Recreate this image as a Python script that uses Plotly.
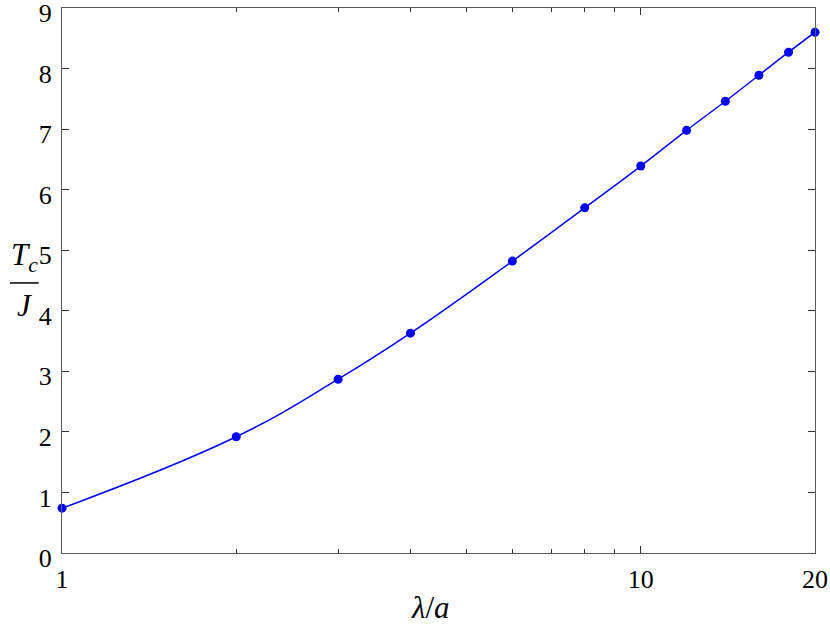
import plotly.graph_objects as go

lam = [1, 2, 3, 4, 6, 8, 10, 12, 14, 16, 18, 20]
tc = [0.74, 1.92, 2.87, 3.63, 4.82, 5.70, 6.39, 6.98, 7.46, 7.89, 8.27, 8.60]

x_tickvals = [1, 10, 20]
x_ticktext = ["1", "10", "20"]
x_minor = [2, 3, 4, 5, 6, 7, 8, 9]
y_tickvals = [0, 1, 2, 3, 4, 5, 6, 7, 8, 9]

FONT = "Liberation Serif"
AX = "#5a5a5a"
BLUE = "#0000ff"
TICKFONT = dict(family=FONT, size=26, color="black")

fig = go.Figure()
fig.add_trace(go.Scatter(
    x=lam, y=tc, mode="lines+markers",
    line=dict(color=BLUE, width=1.5, shape="spline", smoothing=1.2),
    marker=dict(color=BLUE, size=9),
    showlegend=False, cliponaxis=False,
))

fig.update_layout(
    width=830, height=636,
    margin=dict(l=62, r=15, t=8, b=83),
    paper_bgcolor="white", plot_bgcolor="white",
    font=dict(family=FONT, size=26, color="black"),
    xaxis=dict(
        type="log", range=[0, 1.30103], automargin=False,
        tickmode="array", tickvals=x_tickvals, ticktext=x_ticktext, tickfont=TICKFONT,
        ticks="inside", ticklen=7, tickcolor="#333", tickwidth=1,
        minor=dict(tickvals=x_minor, ticks="inside", ticklen=4, tickcolor="#333", showgrid=False),
        showline=True, linecolor=AX, linewidth=1.2, mirror="allticks",
        showgrid=False, zeroline=False, ticklabelstandoff=3, ticklabeloverflow="allow",
    ),
    yaxis=dict(
        range=[0, 9], automargin=False,
        tickmode="array", tickvals=y_tickvals, tickfont=TICKFONT,
        ticks="inside", ticklen=7, tickcolor="#333", tickwidth=1,
        showline=True, linecolor=AX, linewidth=1.2, mirror="allticks",
        showgrid=False, zeroline=False, ticklabelstandoff=4, ticklabelshift=5,
        ticklabeloverflow="allow",
    ),
)

# x-axis title
fig.add_annotation(text="<i>λ</i>/<i>a</i>", xref="paper", yref="paper",
                   x=0.49, y=-0.1, showarrow=False, xanchor="center", yanchor="middle",
                   font=dict(family=FONT, size=31))
# y-axis label as fraction Tc / J
fig.add_annotation(text="<i>T<sub>c</sub></i>", xref="paper", yref="paper",
                   x=-0.05, y=0.502, showarrow=False, xanchor="center", yanchor="bottom",
                   font=dict(family=FONT, size=31))
fig.add_annotation(text="<i>J</i>", xref="paper", yref="paper",
                   x=-0.05, y=0.49, showarrow=False, xanchor="center", yanchor="top",
                   font=dict(family=FONT, size=31))
fig.add_shape(type="line", xref="paper", yref="paper",
              x0=-0.069, x1=-0.031, y0=0.4955, y1=0.4955,
              line=dict(color="black", width=1.5))

fig.write_html("out.html", config={"displayModeBar": False},
               post_script="document.body.style.margin='0';document.body.style.padding='0';")
